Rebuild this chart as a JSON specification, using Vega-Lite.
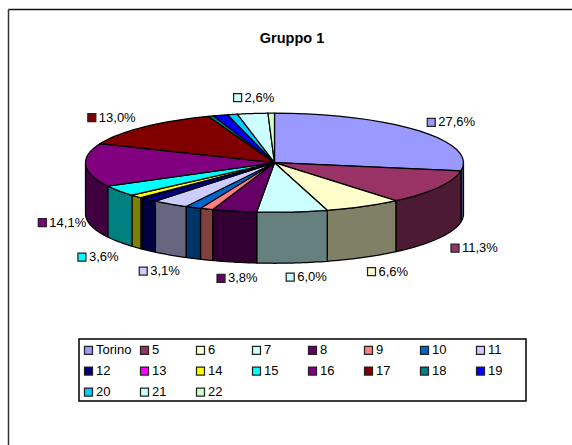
{
"$schema":"https://vega.github.io/schema/vega-lite/v6.json",
"width":572,"height":445,"padding":0,"autosize":{"type":"none"},
"background":"white",
"title":{"text":"Gruppo 1","font":"Liberation Sans","fontSize":14.5,"fontWeight":"bold","color":"black","anchor":"middle","dx":6,"offset":-46},
"config":{"view":{"stroke":null},"axis":{"disable":true},"font":"Liberation Sans"},
"data":{"values":[
{"ord":1,"name":"Torino","value":27.6,"label":"27,6%"},
{"ord":2,"name":"5","value":11.3,"label":"11,3%"},
{"ord":3,"name":"6","value":6.6,"label":"6,6%"},
{"ord":4,"name":"7","value":6.0,"label":"6,0%"},
{"ord":5,"name":"8","value":3.8,"label":"3,8%"},
{"ord":6,"name":"9","value":1.1,"label":""},
{"ord":7,"name":"10","value":1.35,"label":""},
{"ord":8,"name":"11","value":3.1,"label":"3,1%"},
{"ord":9,"name":"12","value":1.45,"label":""},
{"ord":10,"name":"13","value":0.2,"label":""},
{"ord":11,"name":"14","value":1.1,"label":""},
{"ord":12,"name":"15","value":3.6,"label":"3,6%"},
{"ord":13,"name":"16","value":14.1,"label":"14,1%"},
{"ord":14,"name":"17","value":13.0,"label":"13,0%"},
{"ord":15,"name":"18","value":0.45,"label":""},
{"ord":16,"name":"19","value":1.25,"label":""},
{"ord":17,"name":"20","value":0.85,"label":""},
{"ord":18,"name":"21","value":2.6,"label":"2,6%"},
{"ord":19,"name":"22","value":0.55,"label":""}
]},
"resolve":{"scale":{"color":"independent"}},
"layer":[
{"data":{"values":[{}]},
 "mark":{"type":"rule","stroke":"#111111","strokeWidth":1.5},
 "encoding":{
  "x":{"datum":-1.4074,"type":"quantitative","scale":{"domain":[-1.4524,1.5741],"nice":false,"zero":false}},
  "y":{"datum":0.8106,"type":"quantitative","scale":{"domain":[-1.4937,0.861],"nice":false,"zero":false}},
  "x2":{"datum":1.5741}}},
{"data":{"values":[{}]},
 "mark":{"type":"rule","stroke":"#333333","strokeWidth":1.5},
 "encoding":{
  "x":{"datum":-1.4074,"type":"quantitative"},
  "y":{"datum":0.8106,"type":"quantitative"},
  "y2":{"datum":-1.4937}}},
{"data":{"values":[{}]},
 "mark":{"type":"rect","fill":null,"fillOpacity":0,"stroke":"black","strokeWidth":1.5},
 "encoding":{
  "x":{"datum":-1.0344,"type":"quantitative"},
  "x2":{"datum":1.3307},
  "y":{"datum":-0.9328,"type":"quantitative"},
  "y2":{"datum":-1.2608}}},
{"transform":[
  {"window":[{"op":"sum","field":"value","as":"cum"}],"sort":[{"field":"ord","order":"ascending"}]},
  {"calculate":"max((datum.cum-datum.value)/100*2*PI,PI/2)","as":"a0"},
  {"calculate":"min(datum.cum/100*2*PI,3*PI/2)","as":"a1"},
  {"filter":"datum.a1>datum.a0"},
  {"calculate":"[0,0.05,0.1,0.15,0.2,0.25,0.3,0.35,0.4,0.45,0.5,0.55,0.6,0.65,0.7,0.75,0.8,0.85,0.9,0.95,1]","as":"f"},
  {"flatten":["f"]},
  {"calculate":"datum.a0+datum.f*(datum.a1-datum.a0)","as":"a"},
  {"calculate":"sin(datum.a)","as":"px"},
  {"calculate":"cos(datum.a)*0.262","as":"py"},
  {"calculate":"datum.py-0.27","as":"py2"}
 ],
 "mark":{"type":"area","stroke":"black","strokeWidth":1.25,"strokeJoin":"round"},
 "encoding":{
  "x":{"field":"px","type":"quantitative"},
  "y":{"field":"py","type":"quantitative"},
  "y2":{"field":"py2"},
  "color":{"field":"name","type":"nominal","legend":null,"scale":{
    "domain":["Torino","5","6","7","8","9","10","11","12","13","14","15","16","17","18","19","20","21","22"],
    "range":["#4D4D80","#4D1A33","#808066","#668080","#330033","#804040","#003366","#666680","#000040","#800080","#808000","#008080","#400040","#400000","#004040","#000080","#006680","#668080","#668066"]}}}},
{"transform":[
  {"window":[{"op":"sum","field":"value","as":"cum"}],"sort":[{"field":"ord","order":"ascending"}]},
  {"calculate":"(datum.cum-datum.value)/100*2*PI","as":"a0"},
  {"calculate":"datum.cum/100*2*PI","as":"a1"},
  {"calculate":"[-1,0,0.05,0.1,0.15,0.2,0.25,0.3,0.35,0.4,0.45,0.5,0.55,0.6,0.65,0.7,0.75,0.8,0.85,0.9,0.95,1,2]","as":"f"},
  {"flatten":["f"]},
  {"calculate":"datum.a0+datum.f*(datum.a1-datum.a0)","as":"a"},
  {"calculate":"(datum.f<0||datum.f>1)?0:sin(datum.a)","as":"px"},
  {"calculate":"(datum.f<0||datum.f>1)?0:cos(datum.a)*0.262","as":"py"}
 ],
 "mark":{"type":"line","filled":true,"stroke":"black","strokeWidth":1.25,"strokeJoin":"round"},
 "encoding":{
  "x":{"field":"px","type":"quantitative"},
  "y":{"field":"py","type":"quantitative"},
  "order":{"field":"f","type":"quantitative"},
  "color":{"field":"name","type":"nominal","legend":null,"scale":{
    "domain":["Torino","5","6","7","8","9","10","11","12","13","14","15","16","17","18","19","20","21","22"],
    "range":["#9999FF","#993366","#FFFFCC","#CCFFFF","#660066","#FF8080","#0066CC","#CCCCFF","#000080","#FF00FF","#FFFF00","#00FFFF","#800080","#800000","#008080","#0000FF","#00CCFF","#CCFFFF","#CCFFCC"]}}}},
{"transform":[
  {"window":[{"op":"sum","field":"value","as":"cum"}],"sort":[{"field":"ord","order":"ascending"}]},
  {"calculate":"(datum.cum-datum.value/2)/100*360","as":"deg"},
  {"calculate":"datum.deg*PI/180","as":"m"},
  {"calculate":"15+34*sin(datum.m)-7*exp(-pow((datum.deg-85)/50,2))-19*exp(-pow((datum.deg-316)/25,2))+4*exp(-pow((datum.deg-175)/30,2))-24","as":"dx"},
  {"calculate":"2-16*cos(datum.m)+6*exp(-pow((datum.deg-250)/25,2))-4*exp(-pow((datum.deg-170)/22,2))-2*exp(-pow((datum.deg-353)/15,2))","as":"dy"},
  {"calculate":"sin(datum.m)+datum.dx/189","as":"lx"},
  {"calculate":"cos(datum.m)*0.262-(cos(datum.m)<0?0.27:0)-datum.dy/189","as":"ly"}
 ],
 "mark":{"type":"point","shape":"square","filled":true,"size":64,"stroke":"#222222","strokeWidth":1.25},
 "encoding":{
  "x":{"field":"lx","type":"quantitative"},
  "y":{"field":"ly","type":"quantitative"},
  "opacity":{"condition":{"test":"datum.label!==''","value":1},"value":0},
  "color":{"field":"name","type":"nominal","scale":{
    "domain":["Torino","5","6","7","8","9","10","11","12","13","14","15","16","17","18","19","20","21","22"],
    "range":["#9999FF","#993366","#FFFFCC","#CCFFFF","#660066","#FF8080","#0066CC","#CCCCFF","#000080","#FF00FF","#FFFF00","#00FFFF","#800080","#800000","#008080","#0000FF","#00CCFF","#CCFFFF","#CCFFCC"]},
   "legend":{"title":null,"orient":"none","legendX":79,"legendY":340.5,"columns":8,"gridAlign":"all","direction":"horizontal","symbolType":"square","symbolSize":64,"symbolStrokeColor":"#222222","symbolStrokeWidth":1.25,"symbolOpacity":1,"labelFont":"Liberation Sans","labelFontSize":13,"labelColor":"black","labelOffset":1,"columnPadding":6,"rowPadding":7,"padding":3,"labelLimit":60}}}},
{"transform":[
  {"window":[{"op":"sum","field":"value","as":"cum"}],"sort":[{"field":"ord","order":"ascending"}]},
  {"filter":"datum.label!==''"},
  {"calculate":"(datum.cum-datum.value/2)/100*360","as":"deg"},
  {"calculate":"datum.deg*PI/180","as":"m"},
  {"calculate":"15+34*sin(datum.m)-7*exp(-pow((datum.deg-85)/50,2))-19*exp(-pow((datum.deg-316)/25,2))+4*exp(-pow((datum.deg-175)/30,2))-24","as":"dx"},
  {"calculate":"2-16*cos(datum.m)+6*exp(-pow((datum.deg-250)/25,2))-4*exp(-pow((datum.deg-170)/22,2))-2*exp(-pow((datum.deg-353)/15,2))","as":"dy"},
  {"calculate":"sin(datum.m)+datum.dx/189","as":"lx"},
  {"calculate":"cos(datum.m)*0.262-(cos(datum.m)<0?0.27:0)-datum.dy/189","as":"ly"}
 ],
 "mark":{"type":"text","align":"left","baseline":"middle","dx":7,"font":"Liberation Sans","fontSize":13,"color":"black"},
 "encoding":{
  "x":{"field":"lx","type":"quantitative"},
  "y":{"field":"ly","type":"quantitative"},
  "text":{"field":"label"}}}
]}
